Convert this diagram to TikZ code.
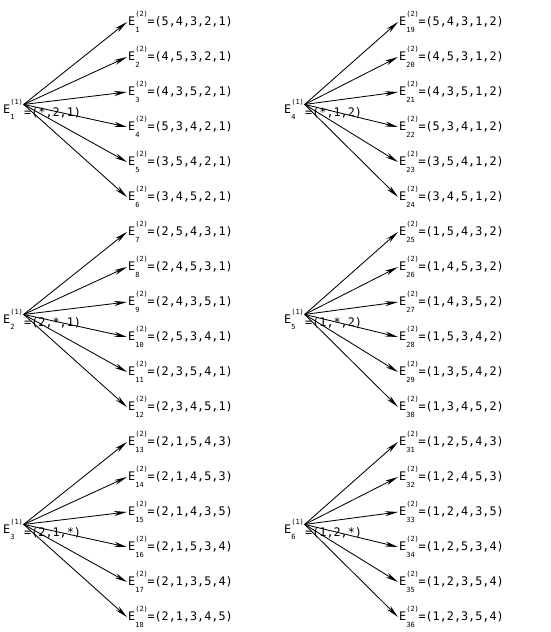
\documentclass[tikz,border=0pt]{standalone}
\usepackage{fontspec}
\setmonofont{DejaVu Sans Mono}
\usepackage{tikz}
\usetikzlibrary{arrows.meta,positioning}
\newcommand{\scrfont}{\fontsize{7}{7}\selectfont}
%% stacked indices after an E
\newcommand{\Escr}[2]{\makebox[12.2pt][l]{\rlap{\raisebox{9pt}{\scrfont#1}}\raisebox{-6.5pt}{\scrfont#2}}}
\newcommand{\Etwo}[2]{E\Escr{(2)}{#1}=#2}
\newcommand{\Eone}[1]{E\Escr{(1)}{#1}}

\begin{document}
\begin{tikzpicture}[x=1pt,y=-1pt,
    every node/.style={font=\fontsize{11.8}{13}\selectfont\ttfamily},
    tgt/.style={anchor=west,inner sep=1pt},
    src/.style={anchor=west,inner sep=1pt},
    tup/.style={anchor=west,inner sep=0pt},
    arr/.style={-{Stealth[length=13pt,width=5pt]},line width=0.85pt}]
  \useasboundingbox (0,0) rectangle (550,632);

  %% Left column, first set
  \node[src] (s1) at (2,109.5) {\Eone{1}};
  \node[tup] (p1) at (24,113) {=(*,2,1)};
  \node[tgt] (t1) at (127,22) {\Etwo{1}{(5,4,3,2,1)}};
  \node[tgt] (t2) at (127,57) {\Etwo{2}{(4,5,3,2,1)}};
  \node[tgt] (t3) at (127,92) {\Etwo{3}{(4,3,5,2,1)}};
  \node[tgt] (t4) at (127,127) {\Etwo{4}{(5,3,4,2,1)}};
  \node[tgt] (t5) at (127,162) {\Etwo{5}{(3,5,4,2,1)}};
  \node[tgt] (t6) at (127,197) {\Etwo{6}{(3,4,5,2,1)}};

  %% Left column, second set
  \node[src] (s2) at (2,319.5) {\Eone{2}};
  \node[tup] (p2) at (24,323) {=(2,*,1)};
  \node[tgt] (t7) at (127,232) {\Etwo{7}{(2,5,4,3,1)}};
  \node[tgt] (t8) at (127,267) {\Etwo{8}{(2,4,5,3,1)}};
  \node[tgt] (t9) at (127,302) {\Etwo{9}{(2,4,3,5,1)}};
  \node[tgt] (t10) at (127,337) {\Etwo{10}{(2,5,3,4,1)}};
  \node[tgt] (t11) at (127,372) {\Etwo{11}{(2,3,5,4,1)}};
  \node[tgt] (t12) at (127,407) {\Etwo{12}{(2,3,4,5,1)}};

  %% Left column, third set
  \node[src] (s3) at (2,529.5) {\Eone{3}};
  \node[tup] (p3) at (24,533) {=(2,1,*)};
  \node[tgt] (t13) at (127,442) {\Etwo{13}{(2,1,5,4,3)}};
  \node[tgt] (t14) at (127,477) {\Etwo{14}{(2,1,4,5,3)}};
  \node[tgt] (t15) at (127,512) {\Etwo{15}{(2,1,4,3,5)}};
  \node[tgt] (t16) at (127,547) {\Etwo{16}{(2,1,5,3,4)}};
  \node[tgt] (t17) at (127,582) {\Etwo{17}{(2,1,3,5,4)}};
  \node[tgt] (t18) at (127,617) {\Etwo{18}{(2,1,3,4,5)}};

  %% Right column, first set
  \node[src] (s4) at (283,109.5) {\Eone{4}};
  \node[tup] (p4) at (305,113) {=(*,1,2)};
  \node[tgt] (t19) at (398,22) {\Etwo{19}{(5,4,3,1,2)}};
  \node[tgt] (t20) at (398,57) {\Etwo{20}{(4,5,3,1,2)}};
  \node[tgt] (t21) at (398,92) {\Etwo{21}{(4,3,5,1,2)}};
  \node[tgt] (t22) at (398,127) {\Etwo{22}{(5,3,4,1,2)}};
  \node[tgt] (t23) at (398,162) {\Etwo{23}{(3,5,4,1,2)}};
  \node[tgt] (t24) at (398,197) {\Etwo{24}{(3,4,5,1,2)}};

  %% Right column, second set
  \node[src] (s5) at (283,319.5) {\Eone{5}};
  \node[tup] (p5) at (305,323) {=(1,*,2)};
  \node[tgt] (t25) at (398,232) {\Etwo{25}{(1,5,4,3,2)}};
  \node[tgt] (t26) at (398,267) {\Etwo{26}{(1,4,5,3,2)}};
  \node[tgt] (t27) at (398,302) {\Etwo{27}{(1,4,3,5,2)}};
  \node[tgt] (t28) at (398,337) {\Etwo{28}{(1,5,3,4,2)}};
  \node[tgt] (t29) at (398,372) {\Etwo{29}{(1,3,5,4,2)}};
  \node[tgt] (t30) at (398,407) {\Etwo{30}{(1,3,4,5,2)}};

  %% Right column, third set
  \node[src] (s6) at (283,529.5) {\Eone{6}};
  \node[tup] (p6) at (305,533) {=(1,2,*)};
  \node[tgt] (t31) at (398,442) {\Etwo{31}{(1,2,5,4,3)}};
  \node[tgt] (t32) at (398,477) {\Etwo{32}{(1,2,4,5,3)}};
  \node[tgt] (t33) at (398,512) {\Etwo{33}{(1,2,4,3,5)}};
  \node[tgt] (t34) at (398,547) {\Etwo{34}{(1,2,5,3,4)}};
  \node[tgt] (t35) at (398,582) {\Etwo{35}{(1,2,3,5,4)}};
  \node[tgt] (t36) at (398,617) {\Etwo{36}{(1,2,3,5,4)}};

  %% Arrows
  \draw[arr] (s1.25) -- (t1.west);
  \draw[arr] (s1.25) -- (t2.west);
  \draw[arr] (s1.25) -- (t3.west);
  \draw[arr] (s1.25) -- (t4.west);
  \draw[arr] (s1.25) -- (t5.west);
  \draw[arr] (s1.25) -- (t6.west);
  \draw[arr] (s2.25) -- (t7.west);
  \draw[arr] (s2.25) -- (t8.west);
  \draw[arr] (s2.25) -- (t9.west);
  \draw[arr] (s2.25) -- (t10.west);
  \draw[arr] (s2.25) -- (t11.west);
  \draw[arr] (s2.25) -- (t12.west);
  \draw[arr] (s3.25) -- (t13.west);
  \draw[arr] (s3.25) -- (t14.west);
  \draw[arr] (s3.25) -- (t15.west);
  \draw[arr] (s3.25) -- (t16.west);
  \draw[arr] (s3.25) -- (t17.west);
  \draw[arr] (s3.25) -- (t18.west);
  \draw[arr] (s4.25) -- (t19.west);
  \draw[arr] (s4.25) -- (t20.west);
  \draw[arr] (s4.25) -- (t21.west);
  \draw[arr] (s4.25) -- (t22.west);
  \draw[arr] (s4.25) -- (t23.west);
  \draw[arr] (s4.25) -- (t24.west);
  \draw[arr] (s5.25) -- (t25.west);
  \draw[arr] (s5.25) -- (t26.west);
  \draw[arr] (s5.25) -- (t27.west);
  \draw[arr] (s5.25) -- (t28.west);
  \draw[arr] (s5.25) -- (t29.west);
  \draw[arr] (s5.25) -- (t30.west);
  \draw[arr] (s6.25) -- (t31.west);
  \draw[arr] (s6.25) -- (t32.west);
  \draw[arr] (s6.25) -- (t33.west);
  \draw[arr] (s6.25) -- (t34.west);
  \draw[arr] (s6.25) -- (t35.west);
  \draw[arr] (s6.25) -- (t36.west);
\end{tikzpicture}
\end{document}
